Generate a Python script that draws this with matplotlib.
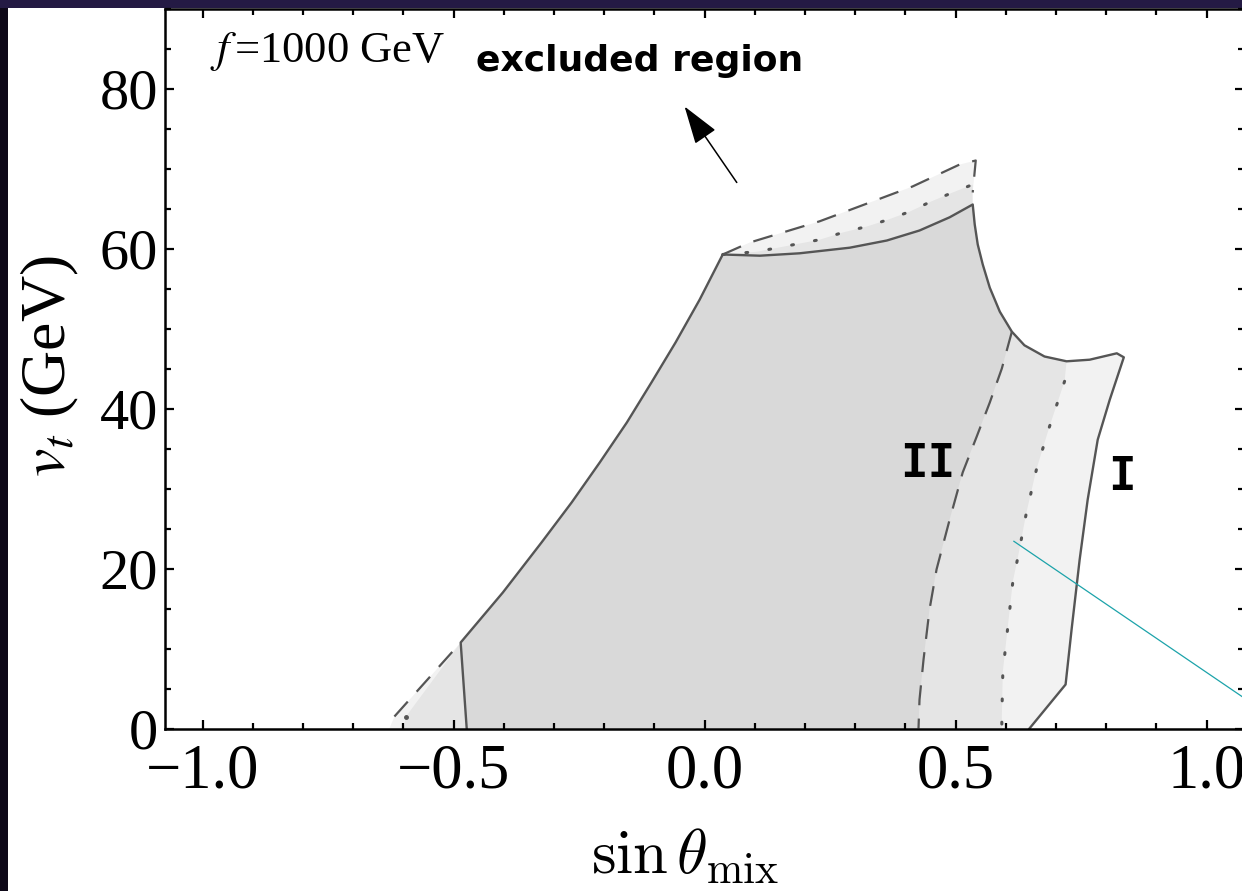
import matplotlib
matplotlib.use('Agg')
import matplotlib.pyplot as plt
from matplotlib.patches import Rectangle
from matplotlib.ticker import MultipleLocator

plt.rcParams['font.family'] = ['Liberation Serif', 'DejaVu Serif']
plt.rcParams['mathtext.fontset'] = 'stix'

# constraint I (solid contour)
left_x = [-0.474, -0.486, -0.402, -0.325, -0.265, -0.209, -0.155, -0.106, -0.058, -0.010, 0.036]
left_y = [0.0, 10.75, 17.0, 23.25, 28.25, 33.25, 38.25, 43.25, 48.25, 53.6, 59.25]
top_I_x = [0.036, 0.110, 0.189, 0.289, 0.363, 0.428, 0.488, 0.534]
top_I_y = [59.25, 59.1, 59.4, 60.1, 61.0, 62.25, 63.9, 65.5]
arc_x = [0.534, 0.538, 0.544, 0.554, 0.568, 0.588, 0.612, 0.637, 0.677, 0.721, 0.767, 0.821]
arc_y = [65.5, 63.0, 60.5, 58.0, 55.1, 52.1, 49.6, 47.9, 46.5, 45.9, 46.1, 46.9]
right_I_x = [0.821, 0.835, 0.807, 0.783, 0.763, 0.747, 0.731, 0.719, 0.647]
right_I_y = [46.9, 46.4, 41.1, 36.1, 28.6, 21.1, 12.4, 5.5, 0.0]

# constraint II (dashed contour)
left_II_x = [-0.628, -0.618, -0.486]
left_II_y = [0.0, 1.5, 10.75]
top_II_x = [0.036, 0.090, 0.229, 0.329, 0.414, 0.508, 0.540, 0.534, 0.534]
top_II_y = [59.25, 60.75, 63.4, 65.75, 67.75, 70.5, 71.0, 67.0, 65.5]
right_II_x = [0.612, 0.592, 0.568, 0.542, 0.514, 0.488, 0.462, 0.448, 0.436, 0.428, 0.426]
right_II_y = [49.6, 45.0, 40.75, 36.5, 32.0, 26.1, 19.9, 14.9, 8.6, 3.6, 0.0]

# constraint III (dotted contour)
left_III_x = [-0.600, -0.595, -0.486]
left_III_y = [0.0, 1.5, 10.75]
top_III_x = [0.036, 0.104, 0.229, 0.275, 0.323, 0.365, 0.408, 0.452, 0.494, 0.534, 0.534]
top_III_y = [59.25, 59.6, 61.1, 62.0, 62.75, 63.6, 64.6, 65.9, 67.0, 68.0, 65.5]
right_III_x = [0.721, 0.717, 0.687, 0.661, 0.641, 0.624, 0.614, 0.604, 0.594, 0.592, 0.592]
right_III_y = [45.9, 43.4, 37.75, 32.4, 27.0, 21.4, 18.4, 12.75, 7.1, 1.4, 0.0]

xticks = [-1.0, -0.5, 0.0, 0.5, 1.0]
yticks = [0, 20, 40, 60, 80]

fig = plt.figure(figsize=(12.42, 8.91), dpi=100, facecolor='#0e0818')
fig.patches.append(Rectangle((8/1242, 0), 1, 1 - 8/891, transform=fig.transFigure,
                             facecolor='white', edgecolor='none', zorder=-10))
fig.patches.append(Rectangle((0, 1 - 8/891), 1, 8/891, transform=fig.transFigure,
                             facecolor='#241a44', edgecolor='none', zorder=-9))
fig.text(0.485, 1.019, 'and (f = 1 TeV, s = 1 TeV) combined constraints', color='white',
         fontsize=22, family=['DejaVu Sans'], weight='bold', ha='center', va='center')

ax = fig.add_axes([165/1242, 162.5/891, 1079.3/1242, 720/891])
ax.set_xlim(-1.075, 1.075)
ax.set_ylim(0, 90)

# regions: each constraint adds a faint grey layer
n_II = 7   # arc points shared with region II
n_III = 10  # arc points shared with region III
reg_I_x = left_x + top_I_x[1:] + arc_x[1:] + right_I_x[1:]
reg_I_y = left_y + top_I_y[1:] + arc_y[1:] + right_I_y[1:]
reg_II_x = left_II_x + left_x[2:] + top_II_x[1:] + arc_x[1:n_II] + right_II_x[1:]
reg_II_y = left_II_y + left_y[2:] + top_II_y[1:] + arc_y[1:n_II] + right_II_y[1:]
reg_III_x = left_III_x + left_x[2:] + top_III_x[1:] + arc_x[1:n_III] + right_III_x[1:]
reg_III_y = left_III_y + left_y[2:] + top_III_y[1:] + arc_y[1:n_III] + right_III_y[1:]
for rx, ry in [(reg_I_x, reg_I_y), (reg_II_x, reg_II_y), (reg_III_x, reg_III_y)]:
    ax.fill(rx, ry, color='k', alpha=0.05, lw=0)

lc = '#555555'
ax.plot(reg_I_x, reg_I_y, color=lc, lw=1.7, solid_joinstyle='round')
dash = (0, (9, 6))
ax.plot(left_II_x[1:], left_II_y[1:], color=lc, lw=1.6, ls=dash)
ax.plot(top_II_x[:-1], top_II_y[:-1], color=lc, lw=1.6, ls=dash)
ax.plot(right_II_x, right_II_y, color=lc, lw=1.6, ls=dash)
dot = (0, (0.6, 7))
ax.plot(top_III_x[:-1], top_III_y[:-1], color=lc, lw=2.2, ls=dot, dash_capstyle='round')
ax.plot(right_III_x[1:], right_III_y[1:], color=lc, lw=2.2, ls=dot, dash_capstyle='round')
ax.plot(left_III_x[1], left_III_y[1], 'o', color=lc, ms=2.5)

# annotations
ax.text(-0.985, 84.6, r'$f\,$=1000 GeV', fontsize=32, ha='left', va='center')
ax.text(-0.13, 83.4, 'excluded region', fontsize=26, family=['DejaVu Sans'],
        weight='bold', ha='center', va='center')
ax.annotate('', xy=(-0.040, 77.75), xytext=(0.064, 68.25),
            arrowprops=dict(arrowstyle='-|>,head_length=0.8,head_width=0.26',
                            color='k', lw=1.1, mutation_scale=30, shrinkA=0, shrinkB=0))
ax.text(0.444, 33.0, 'II', fontsize=33, family=['DejaVu Sans Mono'], weight='bold',
        ha='center', va='center')
ax.text(0.832, 31.4, 'I', fontsize=33, family=['DejaVu Sans Mono'], weight='bold',
        ha='center', va='center')
ax.plot([0.616, 1.075], [23.4, 3.8], color='#1ca3aa', lw=0.9, clip_on=False)

ax.set_xticks(xticks)
ax.set_xticklabels([('%.1f' % v).replace('-', '\u2212') for v in xticks])
ax.set_yticks(yticks)
ax.xaxis.set_minor_locator(MultipleLocator(0.1))
ax.yaxis.set_minor_locator(MultipleLocator(5))
ax.tick_params(which='both', direction='in', top=True, right=True, width=1.6)
ax.tick_params(axis='y', labelsize=42, pad=5)
ax.tick_params(axis='x', labelsize=45, pad=11)
ax.tick_params(which='major', length=6.5)
ax.tick_params(which='minor', length=4)
for s in ax.spines.values():
    s.set_linewidth(1.8)

fig.text(50/1242, 1 - 366/891, r'$v_t$ (GeV)', fontsize=46, rotation=90,
         ha='center', va='center')
fig.text(685/1242, 1 - 858/891, r'$\sin\theta_{\rm mix}$', fontsize=45,
         math_fontfamily='cm', ha='center', va='center')

fig.savefig('out.png', dpi=100, facecolor=fig.get_facecolor())
